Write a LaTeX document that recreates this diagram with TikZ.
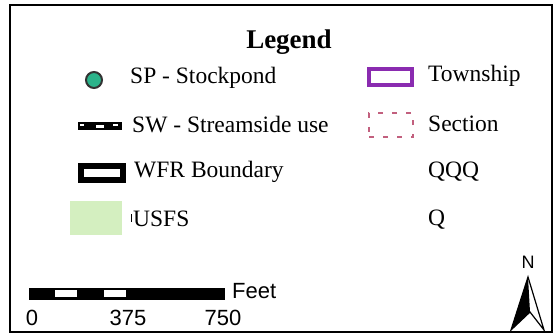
\documentclass[tikz,border=0pt]{standalone}
\usepackage{fontspec}
\setmainfont{Liberation Serif}
\newfontfamily\barfont{Liberation Sans}
\usepackage{xcolor}
\definecolor{pondgreen}{HTML}{2BB38A}
\definecolor{usfsgreen}{HTML}{D4EFC0}
\definecolor{twpurple}{HTML}{8A2BB0}
\definecolor{secpink}{HTML}{C2607E}

\begin{document}
\begin{tikzpicture}[x=1pt, y=-1pt,
            every node/.style={inner sep=0pt},
            label/.style={anchor=west, font=\fontsize{23.5}{26}\selectfont},
            scalelbl/.style={font=\barfont\fontsize{22}{24}\selectfont}
        ]
            \useasboundingbox (0,0) rectangle (556,333);
            % frame
            \draw[line width=2pt] (10,5) rectangle (552,332);
            \node[font=\bfseries\fontsize{27}{30}\selectfont] (title) at (289,42) {Legend};

            % left column
            \node[circle, draw=black!80, line width=2pt, fill=pondgreen, minimum size=16pt] (sp) at (94,80) {};
            \node[label] (sptxt) at (130,78) {SP - Stockpond};

            \fill (78,122) rectangle (122,130);
            \fill[white] (96,125) rectangle (104,128);
            \fill[white] (80,124) rectangle (84,125.5);
            \fill[white] (113,124) rectangle (118,125.5);
            \coordinate (sw) at (100,126);
            \node[label] (swtxt) at (132,125) {SW - Streamside use};

            \node[draw, line width=6pt, minimum width=42pt, minimum height=14pt] (wfr) at (101.5,172.5) {};
            \node[label] (wfrtxt) at (134,172) {WFR Boundary};

            \node[fill=usfsgreen, minimum width=52pt, minimum height=34pt] (usfs) at (96,218) {};
            \draw[line width=1pt] (131,214) -- (131,222);
            \node[label] (usfstxt) at (133,219) {USFS};

            % right column
            \node[draw=twpurple, line width=4pt, minimum width=43pt, minimum height=16pt] (twp) at (390,77) {};
            \node[label] (twptxt) at (428,76) {Township};

            \node[draw=secpink, line width=2pt, dash pattern=on 5pt off 9pt, minimum width=44pt, minimum height=24pt] (sec) at (391,125) {};
            \node[label] (sectxt) at (428,124) {Section};

            \node[label] (qqq) at (428,172) {QQQ};
            \node[label] (q) at (428,220) {Q};

            % scale bar
            \draw[line width=1pt, fill=black] (29,288) rectangle (224,299);
            \fill[white] (55,290) rectangle (77,297);
            \fill[white] (104,290) rectangle (126,297);
            \node[scalelbl, anchor=west] (feet) at (232,291) {Feet};
            \node[scalelbl] (z) at (32,318) {0};
            \node[scalelbl] (m) at (128,318) {375};
            \node[scalelbl] (f) at (223,318) {750};

            % north arrow
            \node[font=\barfont\fontsize{18}{20}\selectfont] (north) at (528,262) {N};
            \fill (528,277) -- (511,330) -- (530,312) -- cycle;
            \draw[line width=1.2pt, line join=miter] (528,277) -- (511,330) -- (530,312) -- (544,330) -- cycle;
        \end{tikzpicture}
\end{document}
